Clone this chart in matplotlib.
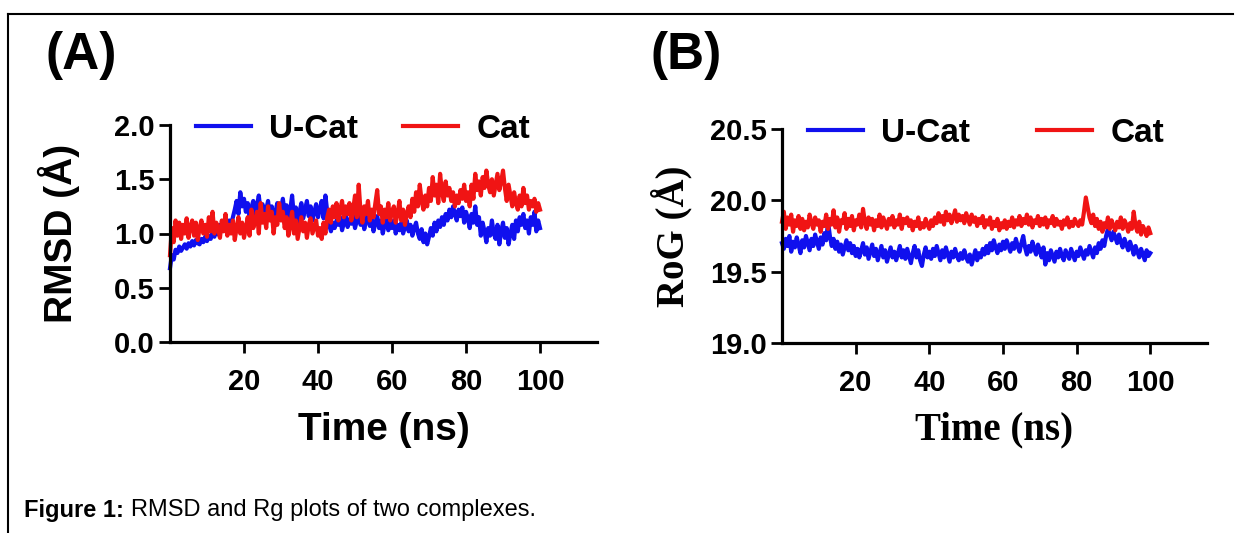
import numpy as np
from matplotlib import pyplot as plt
from matplotlib.lines import Line2D

# RMSD (A), sampled every 0.5 ns from 0 to 100 ns
rmsd_ucat = [0.68,
    0.80, 0.76, 0.85, 0.82, 0.88, 0.84, 0.87, 0.90, 0.86, 0.91, 0.88, 0.93, 0.89, 0.94, 0.91, 0.90, 0.95, 0.92, 0.97, 0.93,
    0.98, 0.95, 1.02, 0.97, 1.05, 0.99, 1.08, 1.02, 1.10, 1.05, 1.04, 1.12, 1.08, 1.15, 1.22, 1.30, 1.18, 1.38, 1.25, 1.32,
    1.20, 1.28, 1.15, 1.24, 1.30, 1.18, 1.26, 1.35, 1.20, 1.27, 1.12, 1.22, 1.30, 1.16, 1.25, 1.10, 1.20, 1.28, 1.14, 1.23,
    1.32, 1.18, 1.26, 1.12, 1.22, 1.35, 1.15, 1.24, 1.10, 1.20, 1.28, 1.14, 1.22, 1.30, 1.16, 1.25, 1.12, 1.20, 1.27, 1.15,
    1.22, 1.30, 1.14, 1.35, 1.20, 1.08, 1.02, 1.10, 1.05, 1.12, 1.08, 1.15, 1.03, 1.10, 1.18, 1.06, 1.13, 1.09, 1.16, 1.05,
    1.12, 1.20, 1.08, 1.15, 1.04, 1.12, 1.18, 1.07, 1.14, 1.02, 1.10, 1.16, 1.05, 1.12, 1.00, 1.08, 1.14, 1.03, 1.10, 1.05,
    1.12, 1.00, 1.08, 1.03, 1.10, 1.00, 1.06, 1.12, 1.02, 1.08, 0.98, 1.05, 1.10, 1.00, 0.95, 1.04, 0.92, 1.00, 0.90, 0.97,
    1.05, 0.98, 1.10, 1.02, 1.12, 1.06, 1.15, 1.08, 1.18, 1.12, 1.22, 1.15, 1.25, 1.18, 1.12, 1.22, 1.16, 1.24, 1.10, 1.20,
    1.14, 1.05, 1.18, 1.10, 1.25, 1.08, 1.15, 0.98, 1.10, 1.02, 0.92, 1.05, 0.98, 1.12, 1.00, 0.95, 1.08, 0.90, 1.02, 1.10,
    0.96, 1.05, 0.90, 1.00, 1.08, 0.95, 1.12, 1.02, 1.15, 1.08, 1.18, 1.05, 1.12, 1.00, 1.15, 1.08, 1.20, 1.02, 1.12, 1.05]

rmsd_cat = [0.80,
    1.05, 0.92, 1.12, 0.98, 1.10, 0.95, 1.08, 1.00, 1.14, 0.96, 1.06, 1.12, 0.98, 1.10, 0.94, 1.05, 1.12, 1.00, 1.08, 0.97,
    1.15, 1.02, 1.20, 1.00, 1.10, 1.05, 0.96, 1.12, 1.02, 1.18, 0.98, 1.08, 1.00, 1.12, 0.94, 1.05, 1.15, 1.00, 1.10, 0.96,
    1.05, 1.15, 0.98, 1.22, 1.05, 1.12, 1.20, 1.00, 1.28, 1.10, 1.18, 1.05, 1.25, 1.12, 1.20, 1.00, 1.15, 1.08, 1.28, 1.12,
    1.20, 1.05, 1.15, 0.98, 1.08, 1.20, 1.00, 1.12, 0.95, 1.05, 1.15, 1.02, 1.10, 0.96, 1.08, 1.14, 1.00, 1.06, 1.12, 0.98,
    1.05, 0.95, 1.10, 1.00, 1.15, 1.22, 1.10, 1.25, 1.15, 1.28, 1.12, 1.22, 1.30, 1.15, 1.25, 1.18, 1.28, 1.12, 1.22, 1.35,
    1.15, 1.45, 1.20, 1.10, 1.25, 1.18, 1.30, 1.12, 1.22, 1.15, 1.28, 1.40, 1.18, 1.25, 1.10, 1.22, 1.15, 1.28, 1.12, 1.20,
    1.25, 1.10, 1.18, 1.30, 1.12, 1.22, 1.08, 1.18, 1.25, 1.15, 1.32, 1.20, 1.38, 1.25, 1.45, 1.30, 1.22, 1.35, 1.25, 1.42,
    1.30, 1.52, 1.35, 1.45, 1.28, 1.55, 1.38, 1.30, 1.48, 1.35, 1.42, 1.30, 1.38, 1.25, 1.35, 1.28, 1.40, 1.32, 1.45, 1.30,
    1.38, 1.25, 1.45, 1.32, 1.55, 1.40, 1.48, 1.35, 1.52, 1.42, 1.58, 1.45, 1.38, 1.50, 1.35, 1.45, 1.55, 1.40, 1.48, 1.58,
    1.42, 1.30, 1.45, 1.35, 1.25, 1.38, 1.28, 1.22, 1.35, 1.25, 1.42, 1.28, 1.35, 1.22, 1.30, 1.25, 1.32, 1.20, 1.28, 1.22]

# radius of gyration (B)
rog_ucat = [19.70,
    19.66, 19.73, 19.68, 19.75, 19.64, 19.71, 19.67, 19.74, 19.69, 19.63, 19.72, 19.67, 19.75, 19.70, 19.65, 19.73, 19.68, 19.76, 19.71, 19.66,
    19.74, 19.69, 19.77, 19.72, 19.85, 19.75, 19.68, 19.73, 19.66, 19.71, 19.64, 19.69, 19.62, 19.67, 19.72, 19.65, 19.70, 19.63, 19.68, 19.61,
    19.66, 19.60, 19.65, 19.70, 19.62, 19.67, 19.59, 19.64, 19.69, 19.61, 19.66, 19.58, 19.63, 19.68, 19.60, 19.65, 19.57, 19.62, 19.67, 19.60,
    19.64, 19.58, 19.63, 19.68, 19.60, 19.65, 19.59, 19.66, 19.61, 19.56, 19.63, 19.68, 19.60, 19.65, 19.58, 19.54, 19.62, 19.67, 19.60, 19.64,
    19.59, 19.66, 19.61, 19.68, 19.63, 19.58, 19.65, 19.60, 19.67, 19.62, 19.57, 19.64, 19.60, 19.66, 19.61, 19.58, 19.63, 19.59, 19.65, 19.60,
    19.57, 19.62, 19.55, 19.60, 19.65, 19.58, 19.63, 19.60, 19.66, 19.62, 19.68, 19.63, 19.70, 19.65, 19.72, 19.67, 19.63, 19.69, 19.65, 19.71,
    19.66, 19.72, 19.68, 19.64, 19.70, 19.66, 19.73, 19.68, 19.64, 19.70, 19.75, 19.67, 19.62, 19.68, 19.64, 19.71, 19.66, 19.62, 19.69, 19.65,
    19.60, 19.67, 19.55, 19.63, 19.58, 19.65, 19.61, 19.57, 19.64, 19.60, 19.66, 19.61, 19.58, 19.65, 19.62, 19.59, 19.66, 19.62, 19.58, 19.64,
    19.61, 19.67, 19.63, 19.59, 19.65, 19.62, 19.68, 19.64, 19.60, 19.67, 19.63, 19.70, 19.66, 19.72, 19.68, 19.75, 19.80, 19.76, 19.72, 19.78,
    19.74, 19.70, 19.76, 19.71, 19.67, 19.73, 19.69, 19.65, 19.71, 19.67, 19.62, 19.68, 19.64, 19.60, 19.66, 19.62, 19.58, 19.65, 19.61, 19.63]

rog_cat = [19.85,
    19.92, 19.80, 19.88, 19.83, 19.90, 19.78, 19.86, 19.82, 19.89, 19.80, 19.87, 19.79, 19.85, 19.81, 19.90, 19.84, 19.80, 19.88, 19.83, 19.86,
    19.78, 19.85, 19.82, 19.90, 19.80, 19.87, 19.83, 19.93, 19.81, 19.88, 19.78, 19.86, 19.84, 19.91, 19.80, 19.87, 19.82, 19.89, 19.79, 19.86,
    19.83, 19.90, 19.81, 19.94, 19.85, 19.80, 19.88, 19.83, 19.87, 19.79, 19.86, 19.82, 19.90, 19.81, 19.88, 19.84, 19.80, 19.87, 19.83, 19.89,
    19.81, 19.86, 19.83, 19.90, 19.80, 19.87, 19.84, 19.88, 19.82, 19.86, 19.79, 19.85, 19.82, 19.88, 19.80, 19.84, 19.81, 19.87, 19.83, 19.80,
    19.86, 19.82, 19.88, 19.84, 19.91, 19.85, 19.89, 19.83, 19.92, 19.86, 19.90, 19.84, 19.88, 19.93, 19.85, 19.90, 19.86, 19.89, 19.84, 19.91,
    19.87, 19.83, 19.90, 19.85, 19.88, 19.82, 19.87, 19.84, 19.89, 19.81, 19.86, 19.83, 19.88, 19.80, 19.85, 19.82, 19.87, 19.79, 19.84, 19.81,
    19.86, 19.80, 19.85, 19.82, 19.88, 19.81, 19.86, 19.83, 19.89, 19.82, 19.87, 19.84, 19.90, 19.83, 19.88, 19.81, 19.86, 19.84, 19.89, 19.82,
    19.87, 19.83, 19.88, 19.81, 19.86, 19.84, 19.89, 19.82, 19.87, 19.83, 19.85, 19.80, 19.86, 19.83, 19.88, 19.81, 19.85, 19.82, 19.87, 19.84,
    19.82, 19.86, 19.83, 19.92, 20.02, 19.95, 19.88, 19.84, 19.90, 19.82, 19.87, 19.80, 19.85, 19.78, 19.84, 19.81, 19.88, 19.80, 19.86, 19.82,
    19.79, 19.85, 19.81, 19.88, 19.80, 19.86, 19.83, 19.78, 19.84, 19.80, 19.92, 19.82, 19.78, 19.85, 19.76, 19.82, 19.79, 19.75, 19.81, 19.77]

time_step = 0.5
x_ticks = [20, 40, 60, 80, 100]
labels = ["U-Cat", "Cat"]
colors = ["#1010ee", "#f01414"]

SANS = "Liberation Sans"
SERIF = "Liberation Serif"

W, H = 1237, 533
fig = plt.figure(figsize=(W / 100, H / 100), dpi=100)


def px_axes(left, top, right, bottom):
    return fig.add_axes([left / W, 1 - bottom / H, (right - left) / W, (bottom - top) / H])


def style_axes(ax, ylim, yticks, ylabel, label_font):
    ax.set_xlim(0, 115.4)
    ax.set_ylim(*ylim)
    ax.set_xticks(x_ticks)
    ax.set_yticks(yticks)
    ax.set_yticklabels([f"{v:.1f}" for v in yticks])
    for s in ["top", "right"]:
        ax.spines[s].set_visible(False)
    for s in ["left", "bottom"]:
        ax.spines[s].set_linewidth(2.3)
    ax.tick_params(direction="out", length=8, width=2.0)
    ax.tick_params(axis="x", pad=11)
    ax.tick_params(axis="y", pad=3)
    for t in ax.get_xticklabels() + ax.get_yticklabels():
        t.set_fontfamily(SANS)
        t.set_fontweight("bold")
        t.set_fontsize(21)
    ax.set_ylabel(ylabel, fontfamily=label_font, fontweight="bold", fontsize=28)
    ax.set_xlabel("Time (ns)", fontfamily=label_font, fontweight="bold", fontsize=28)
    ax.yaxis.set_label_coords(-0.26, 0.5)
    ax.yaxis.label.set_verticalalignment("center")
    ax.xaxis.set_label_coords(0.5, -0.405)
    ax.xaxis.label.set_verticalalignment("center")


def draw(ax, series, legend_x, colspace):
    for y, lab, c in zip(series, labels, colors):
        t = np.arange(len(y)) * time_step
        ax.plot(t, y, color=c, lw=3.0, label=lab, clip_on=False)
    ax.legend(loc="center", bbox_to_anchor=(legend_x, 0.98), ncol=2, frameon=False,
              handlelength=1.65, handletextpad=0.55, columnspacing=colspace,
              prop={"family": SANS, "weight": "bold", "size": 24})


axA = px_axes(170, 125, 597, 342)
draw(axA, [rmsd_ucat, rmsd_cat], 0.452, 1.35)
style_axes(axA, (0, 2.0), [0.0, 0.5, 1.0, 1.5, 2.0], "RMSD (Å)", SANS)

axB = px_axes(782, 129, 1207, 343)
draw(axB, [rog_ucat, rog_cat], 0.48, 2.0)
style_axes(axB, (19.0, 20.5), [19.0, 19.5, 20.0, 20.5], "RoG (Å)", SERIF)

fig.text(45 / W, 1 - 55 / H, "(A)", fontfamily=SANS, fontweight="bold", fontsize=37, va="center")
fig.text(650 / W, 1 - 55 / H, "(B)", fontfamily=SANS, fontweight="bold", fontsize=37, va="center")

# figure frame from the page layout
fig.add_artist(Line2D([8 / W, 8 / W], [0, 1 - 14 / H], color="black", lw=1.5))
fig.add_artist(Line2D([8 / W, 1233 / W], [1 - 14 / H, 1 - 14 / H], color="black", lw=1.5))

# caption: bold lead then regular text
cap_y = 1 - 510 / H
lead = fig.text(24 / W, cap_y, "Figure 1:", fontfamily=SANS, fontweight="bold", fontsize=17, va="center")
fig.canvas.draw()
bb = lead.get_window_extent()
fig.text((bb.x1 + 7) / W, cap_y, "RMSD and Rg plots of two complexes.", fontfamily=SANS,
         fontsize=17, va="center")

fig.savefig("out.png", dpi=100)
